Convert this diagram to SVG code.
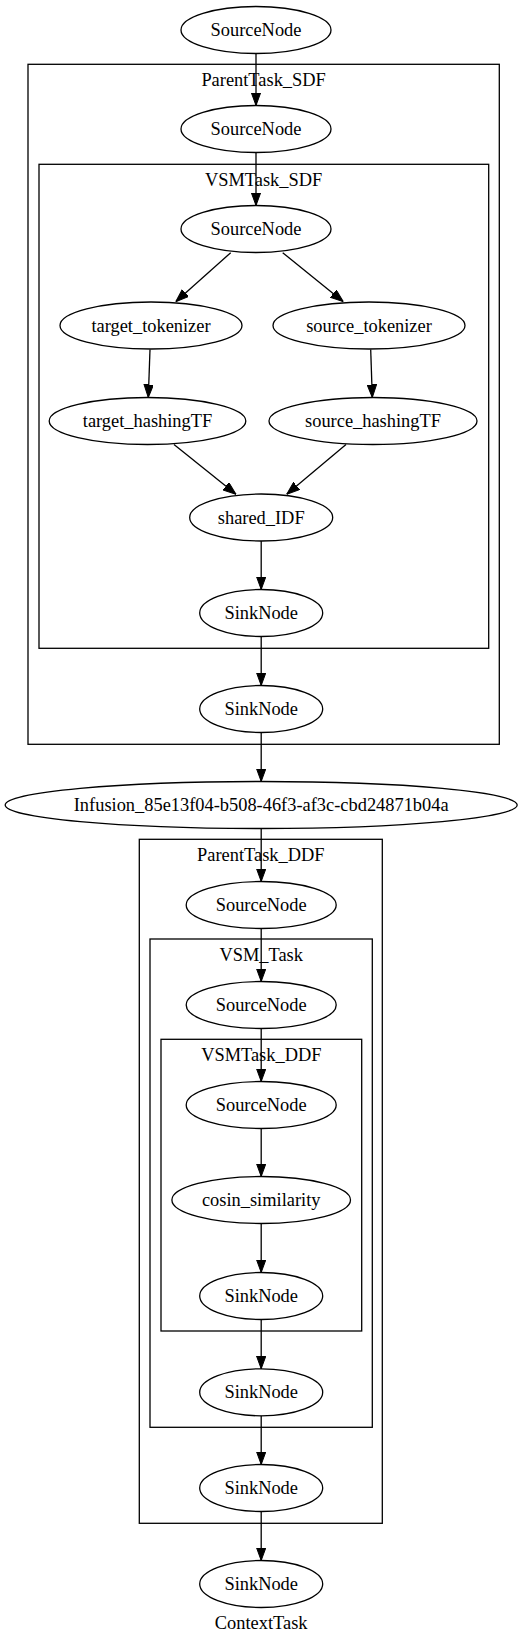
<svg xmlns="http://www.w3.org/2000/svg" width="527" height="1645" viewBox="0 0 527 1645">
<style>
.n ellipse{fill:none;stroke:#000;stroke-width:1.3}
.c rect{fill:none;stroke:#000;stroke-width:1.3}
text{font-family:"Liberation Serif","Times New Roman",serif;font-size:18.4px;fill:#000;text-anchor:middle}
#edges line{stroke:#000;stroke-width:1.3;marker-end:url(#ah)}
</style>
<defs>
<marker id="ah" markerUnits="userSpaceOnUse" markerWidth="13" markerHeight="10" refX="13" refY="4.75" orient="auto">
<path d="M0,0 L13,4.75 L0,9.5 z" fill="#000" stroke="#000" stroke-width="1"/>
</marker>
</defs>
<rect width="527" height="1645" fill="#fff"/>
<g id="clusters" class="c">
<g id="cluster_ParentTask_SDF"><rect x="28" y="64.3" width="471.3" height="680"/><text x="263.6" y="86">ParentTask_SDF</text></g>
<g id="cluster_VSMTask_SDF"><rect x="39" y="164.3" width="449.7" height="484"/><text x="263.6" y="185.5">VSMTask_SDF</text></g>
<g id="cluster_ParentTask_DDF"><rect x="139.3" y="839.3" width="243" height="684"/><text x="260.8" y="861">ParentTask_DDF</text></g>
<g id="cluster_VSM_Task"><rect x="150" y="939" width="222.3" height="488.3"/><text x="261.2" y="961">VSM_Task</text></g>
<g id="cluster_VSMTask_DDF"><rect x="161" y="1039.3" width="200.7" height="291.7"/><text x="261.3" y="1060.5">VSMTask_DDF</text></g>
</g>
<g id="edges">
<line x1="256" y1="53.5" x2="256" y2="105.5"/>
<line x1="256" y1="152.5" x2="256" y2="205.5"/>
<line x1="230.7" y1="252.7" x2="175.7" y2="301.7"/>
<line x1="282.7" y1="252.7" x2="343.3" y2="301.7"/>
<line x1="150" y1="349.5" x2="148.3" y2="397.5"/>
<line x1="370.7" y1="349.5" x2="372.3" y2="397.5"/>
<line x1="174" y1="444.5" x2="236" y2="494.3"/>
<line x1="346" y1="444.5" x2="286.7" y2="494.3"/>
<line x1="261.2" y1="541" x2="261.2" y2="589.5"/>
<line x1="261.2" y1="636.5" x2="261.2" y2="685.5"/>
<line x1="261.2" y1="732.5" x2="261.2" y2="781.5"/>
<line x1="261.2" y1="828.5" x2="261.2" y2="881.5"/>
<line x1="261.2" y1="928.5" x2="261.2" y2="981.5"/>
<line x1="261.2" y1="1028.5" x2="261.2" y2="1081.5"/>
<line x1="261.2" y1="1128.5" x2="261.2" y2="1176.5"/>
<line x1="261.2" y1="1223.5" x2="261.2" y2="1272.5"/>
<line x1="261.2" y1="1319.5" x2="261.2" y2="1368.8"/>
<line x1="261.2" y1="1415.8" x2="261.2" y2="1464.5"/>
<line x1="261.2" y1="1511.5" x2="261.2" y2="1560.5"/>
</g>
<g id="nodes" class="n">
<g id="ctx_source"><ellipse cx="256" cy="30" rx="75" ry="23.5"/><text x="256" y="36">SourceNode</text></g>
<g id="psdf_source"><ellipse cx="256" cy="129" rx="75" ry="23.5"/><text x="256" y="135">SourceNode</text></g>
<g id="vsdf_source"><ellipse cx="256" cy="229" rx="75" ry="23.5"/><text x="256" y="235">SourceNode</text></g>
<g id="target_tokenizer"><ellipse cx="151" cy="325.5" rx="91" ry="23.5"/><text x="151" y="331.5">target_tokenizer</text></g>
<g id="source_tokenizer"><ellipse cx="369" cy="325.5" rx="96" ry="23.5"/><text x="369" y="331.5">source_tokenizer</text></g>
<g id="target_hashingTF"><ellipse cx="147.5" cy="421" rx="98.3" ry="23.5"/><text x="147.5" y="427">target_hashingTF</text></g>
<g id="source_hashingTF"><ellipse cx="373" cy="421" rx="104" ry="23.5"/><text x="373" y="427">source_hashingTF</text></g>
<g id="shared_IDF"><ellipse cx="261.2" cy="517.5" rx="71.5" ry="23.5"/><text x="261.2" y="523.5">shared_IDF</text></g>
<g id="vsdf_sink"><ellipse cx="261.2" cy="613" rx="61.5" ry="23.5"/><text x="261.2" y="619">SinkNode</text></g>
<g id="psdf_sink"><ellipse cx="261.2" cy="709" rx="61.5" ry="23.5"/><text x="261.2" y="715">SinkNode</text></g>
<g id="infusion"><ellipse cx="261.2" cy="805" rx="256" ry="23.5"/><text x="261.2" y="811">Infusion_85e13f04-b508-46f3-af3c-cbd24871b04a</text></g>
<g id="pddf_source"><ellipse cx="261.2" cy="905" rx="75" ry="23.5"/><text x="261.2" y="911">SourceNode</text></g>
<g id="vsm_source"><ellipse cx="261.2" cy="1005" rx="75" ry="23.5"/><text x="261.2" y="1011">SourceNode</text></g>
<g id="vddf_source"><ellipse cx="261.2" cy="1105" rx="75" ry="23.5"/><text x="261.2" y="1111">SourceNode</text></g>
<g id="cosin_similarity"><ellipse cx="261.2" cy="1200" rx="89.3" ry="23.5"/><text x="261.2" y="1206">cosin_similarity</text></g>
<g id="vddf_sink"><ellipse cx="261.2" cy="1296" rx="61.5" ry="23.5"/><text x="261.2" y="1302">SinkNode</text></g>
<g id="vsm_sink"><ellipse cx="261.2" cy="1392.3" rx="61.5" ry="23.5"/><text x="261.2" y="1398.3">SinkNode</text></g>
<g id="pddf_sink"><ellipse cx="261.2" cy="1488" rx="61.5" ry="23.5"/><text x="261.2" y="1494">SinkNode</text></g>
<g id="ctx_sink"><ellipse cx="261.2" cy="1584" rx="61.5" ry="23.5"/><text x="261.2" y="1590">SinkNode</text></g>
</g>
<text id="graph_label" x="261.2" y="1629">ContextTask</text>
</svg>
